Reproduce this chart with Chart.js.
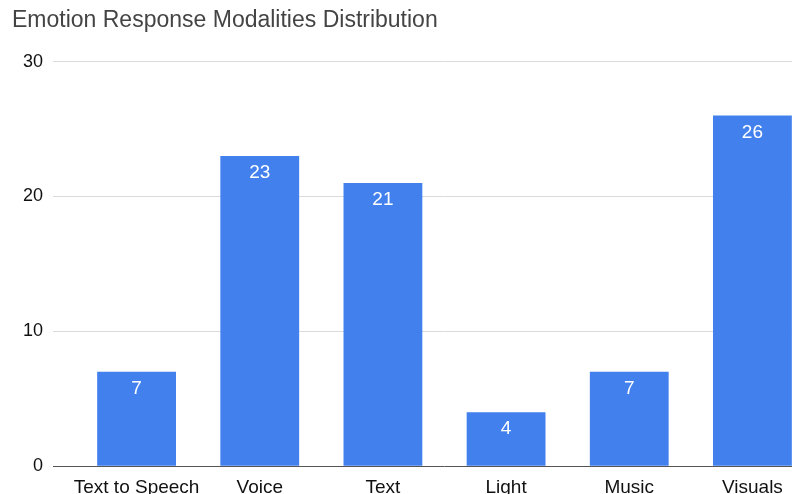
<!DOCTYPE html>
<html lang="en">
<head>
    <meta charset="UTF-8">
    <title>Emotion Response Modalities Distribution</title>
    <script src="https://cdn.jsdelivr.net/npm/chart.js"></script>
    <style>
        html, body {
            margin: 0;
            padding: 0;
            background: #fff;
            overflow: hidden;
        }
        .chart-box {
            width: 792px;
            height: 494px;
            overflow: hidden;
        }
    </style>
</head>
<body>
    <div class="chart-box">
        <canvas id="chart" width="814" height="501"></canvas>
    </div>
    <script>
        const categories = ["Text to Speech", "Voice", "Text", "Light", "Music", "Visuals"];
        const counts = [7, 23, 21, 4, 7, 26];
        const yTicks = [0, 10, 20, 30];

        const fontFamily = "Arial, 'Liberation Sans', sans-serif";

        // white value labels just inside the top of each bar
        const barValueLabels = {
            id: "barValueLabels",
            afterDatasetsDraw(chart) {
                const ctx = chart.ctx;
                const meta = chart.getDatasetMeta(0);
                ctx.save();
                ctx.fillStyle = "#ffffff";
                ctx.font = "19px " + fontFamily;
                ctx.textAlign = "center";
                ctx.textBaseline = "middle";
                meta.data.forEach((bar, i) => {
                    ctx.fillText(String(counts[i]), bar.x, bar.y + 17);
                });
                ctx.restore();
            }
        };

        const lineColor = (ctx) => ctx.tick && ctx.tick.value === 0 ? "#555555" : "#dadada";

        new Chart(document.getElementById("chart"), {
            type: "bar",
            data: {
                labels: categories,
                datasets: [{
                    data: counts,
                    backgroundColor: "#4280ee",
                    borderWidth: 0,
                    categoryPercentage: 0.8,
                    barPercentage: 0.8
                }]
            },
            options: {
                responsive: false,
                animation: false,
                layout: { padding: { left: 12, top: 7, right: 0, bottom: 0 } },
                plugins: {
                    legend: { display: false },
                    tooltip: { enabled: false },
                    title: {
                        display: true,
                        text: "Emotion Response Modalities Distribution",
                        align: "start",
                        color: "#444444",
                        font: { family: fontFamily, size: 23, weight: "normal" },
                        padding: { top: 0, bottom: 27 }
                    }
                },
                scales: {
                    x: {
                        grid: { display: false },
                        border: { display: false },
                        ticks: {
                            color: "#111111",
                            font: { family: fontFamily, size: 19 },
                            padding: 2,
                            maxRotation: 0,
                            autoSkip: false
                        }
                    },
                    y: {
                        min: 0,
                        max: 30,
                        afterBuildTicks(scale) {
                            scale.ticks = yTicks.map(v => ({ value: v }));
                        },
                        afterFit(scale) {
                            scale.width = 63;
                        },
                        border: { display: false },
                        grid: {
                            color: lineColor,
                            tickColor: lineColor,
                            tickLength: 22,
                            lineWidth: 1
                        },
                        ticks: {
                            color: "#111111",
                            font: { family: fontFamily, size: 18 },
                            padding: 10
                        }
                    }
                }
            },
            plugins: [barValueLabels]
        });
    </script>
</body>
</html>
